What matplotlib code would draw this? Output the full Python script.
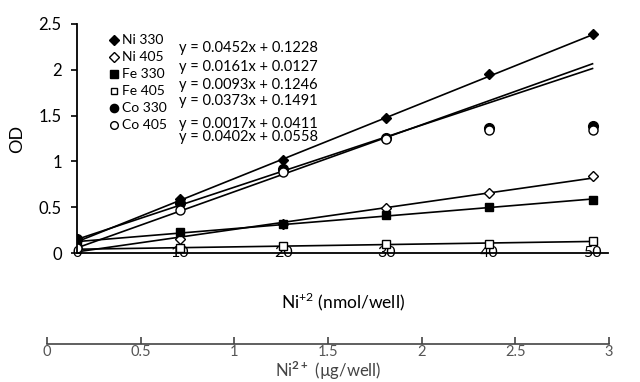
import numpy as np
import matplotlib
matplotlib.use('Agg')
import matplotlib.pyplot as plt
from matplotlib.lines import Line2D

plt.rcParams['font.family'] = ['Lato', 'DejaVu Sans']
plt.rcParams['mathtext.fontset'] = 'custom'
plt.rcParams['mathtext.rm'] = 'Lato'
plt.rcParams['mathtext.bf'] = 'Lato:bold'

# data
conc = [0, 10, 20, 30, 40, 50]
ni_330 = [0.15, 0.59, 1.02, 1.47, 1.95, 2.39]
ni_405 = [0.05, 0.15, 0.32, 0.49, 0.66, 0.84]
fe_330 = [0.13, 0.23, 0.32, 0.42, 0.50, 0.58]
fe_405 = [0.04, 0.05, 0.08, 0.10, 0.10, 0.13]
co_330 = [0.15, 0.55, 0.92, 1.26, 1.36, 1.39]
co_405 = [0.06, 0.47, 0.88, 1.25, 1.34, 1.34]

# trendlines: slope, intercept
fits = {
    'Ni 330': (0.0452, 0.1228),
    'Ni 405': (0.0161, 0.0127),
    'Fe 330': (0.0093, 0.1246),
    'Fe 405': (0.0017, 0.0411),
    'Co 330': (0.0373, 0.1491),
    'Co 405': (0.0402, 0.0558),
}
eq_order = ['Ni 330', 'Ni 405', 'Fe 330', 'Co 330', 'Fe 405', 'Co 405']

mass_ticks = [0, 0.5, 1, 1.5, 2, 2.5, 3]
mass_labels = ['0', '0.5', '1', '1.5', '2', '2.5', '3']

series = [
    ('Ni 330', ni_330, 'D', 'k', 5.5),
    ('Ni 405', ni_405, 'D', 'w', 5.5),
    ('Fe 330', fe_330, 's', 'k', 6),
    ('Fe 405', fe_405, 's', 'w', 5.5),
    ('Co 330', co_330, 'o', 'k', 7),
    ('Co 405', co_405, 'o', 'w', 6.5),
]

fig = plt.figure(figsize=(6.4, 3.82), dpi=100)
ax = fig.add_axes([77 / 640, 129 / 382, 531 / 640, 229 / 382])

xfit = np.array([0, 50])
handles = []
for name, y, mk, fc, ms in series:
    m, b = fits[name]
    ax.plot(xfit, m * xfit + b, color='k', lw=1.2, zorder=2)
    ax.plot(conc, y, ls='none', marker=mk, ms=ms, mfc=fc, mec='k', mew=1.0, zorder=2.2)
    handles.append(Line2D([], [], ls='none', marker=mk, ms=ms * 0.85, mfc=fc, mec='k', mew=1.0, label=name))

ax.set_xlim(0, 51.5)
ax.set_ylim(0, 2.5)
ax.set_xticks(conc)
ax.set_xticklabels([str(c) for c in conc])
ax.set_yticks([0, 0.5, 1, 1.5, 2, 2.5])
ax.set_yticklabels(['0', '0.5', '1', '1.5', '2', '2.5'])
ax.tick_params(axis='x', length=0, pad=-5, labelsize=11.5)
ax.tick_params(axis='y', length=4, width=1.2, pad=7, labelsize=12)
for s in ['top', 'right']:
    ax.spines[s].set_visible(False)
for s in ['left', 'bottom']:
    ax.spines[s].set_linewidth(1.3)
ax.set_ylabel('OD', fontsize=13, labelpad=10)
ax.set_xlabel(r'Ni$^{+2}$ (nmol/well)', fontsize=12.5, labelpad=22)

leg = ax.legend(handles=handles, loc='upper left', bbox_to_anchor=(0.05, 0.985),
                frameon=False, fontsize=10, handlelength=0.5, handletextpad=0.3,
                labelspacing=0.36, borderpad=0)

eq_y = [48, 67, 85, 101, 124, 137]
for name, yp in zip(eq_order, eq_y):
    m, b = fits[name]
    fig.text(179 / 640, 1 - yp / 382, f'y = {m:.4f}x + {b:.4f}', fontsize=10.5,
             va='center', ha='left')

# second axis: mass scale
ax2 = fig.add_axes([47 / 640, 38 / 382, 562 / 640, 0.01])
ax2.set_xlim(0, 3)
ax2.set_yticks([])
for s in ['top', 'right', 'left']:
    ax2.spines[s].set_visible(False)
ax2.spines['bottom'].set_color('#444444')
ax2.spines['bottom'].set_linewidth(1.2)
ax2.patch.set_alpha(0)
ax2.set_xticks(mass_ticks)
ax2.set_xticklabels(mass_labels)
ax2.tick_params(axis='x', direction='in', length=5, width=1.2, color='#444444',
                labelcolor='#555555', labelsize=10.5, pad=1)
ax2.set_xlabel('Ni$^{\\mathbf{2+}}$ (\u00b5g/well)', fontsize=12, color='#444444', labelpad=0)

fig.savefig('out.png', dpi=100)
